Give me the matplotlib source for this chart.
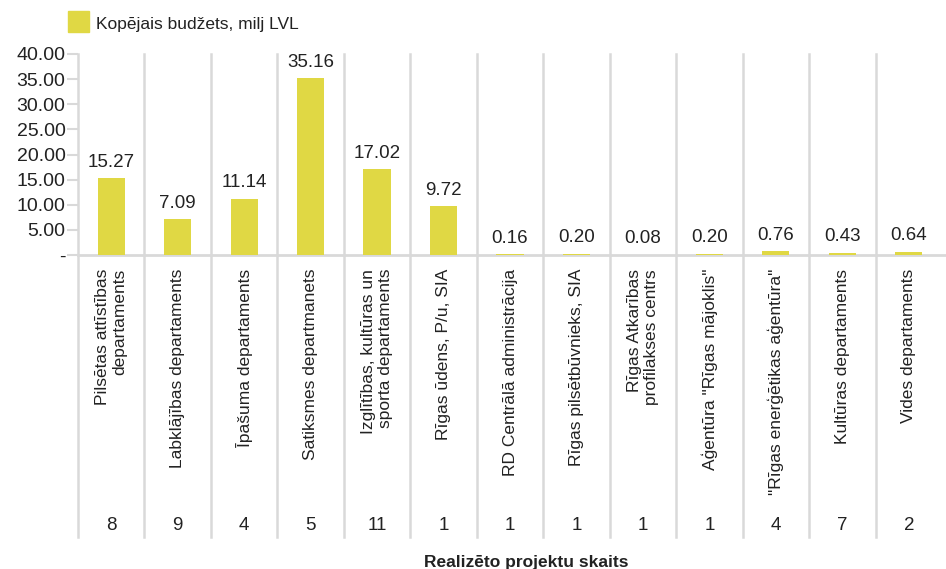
import matplotlib
matplotlib.use("Agg")
import matplotlib.pyplot as plt
import matplotlib.transforms as mtransforms
from matplotlib.patches import Rectangle

plt.rcParams['font.family'] = ['Liberation Sans', 'DejaVu Sans']

categories = [
    "Pilsētas attīstības\ndepartaments",
    "Labklājības departaments",
    "Īpašuma departaments",
    "Satiksmes departmanets",
    "Izglītības, kultūras un\nsporta departaments",
    "Rīgas ūdens, P/u, SIA",
    "RD Centrālā administrācija",
    "Rīgas pilsētbūvnieks, SIA",
    "Rīgas Atkarības\nprofilakses centrs",
    "Aģentūra \"Rīgas mājoklis\"",
    "\"Rīgas enerģētikas aģentūra\"",
    "Kultūras departaments",
    "Vides departaments",
]
budget = [15.27, 7.09, 11.14, 35.16, 17.02, 9.72, 0.16, 0.20, 0.08, 0.20, 0.76, 0.43, 0.64]
projects = [8, 9, 4, 5, 11, 1, 1, 1, 1, 1, 4, 7, 2]
yticks = [0, 5, 10, 15, 20, 25, 30, 35, 40]
ytick_labels = ["-", "5.00", "10.00", "15.00", "20.00", "25.00", "30.00", "35.00", "40.00"]

W, H = 946, 569
bar_color = "#e0d844"
grid_color = "#d9d9d9"
text_color = "#222222"

fig = plt.figure(figsize=(W / 100, H / 100), dpi=100)
ax = fig.add_axes([78 / W, (H - 255) / H, (942 - 78) / W, (255 - 54) / H])

x = list(range(len(categories)))
ax.bar(x, budget, width=0.41, color=bar_color, zorder=3)
ax.set_xlim(-0.5, len(categories) - 0.5)
ax.set_ylim(0, 40)

for s in ax.spines.values():
    s.set_visible(False)

ax.set_yticks(yticks)
ax.set_yticklabels(ytick_labels, fontsize=14, color=text_color)
ax.tick_params(axis='y', length=8, width=1.5, color=grid_color, pad=1)
ax.set_xticks([])

# zero line, running on to the right edge
ax.plot([-0.5, len(categories) + 0.5], [0, 0], color=grid_color, lw=2, clip_on=False, zorder=2)

# vertical separators reaching down into the label area
trans = mtransforms.blended_transform_factory(ax.transData, fig.transFigure)
for i in range(len(categories)):
    xs = i - 0.5
    ax.plot([xs, xs], [(H - 537) / H, (H - 54) / H], color=grid_color, lw=1.8,
            transform=trans, clip_on=False, zorder=1)

for i, v in enumerate(budget):
    ax.text(i, v + 1.5, f"{v:.2f}", ha='center', va='bottom', fontsize=13.5,
            color=text_color, zorder=4)
    ax.text(i, (H - 269) / H, categories[i], transform=trans, rotation=90,
            ha='center', va='top', multialignment='right', fontsize=12.5,
            color=text_color, linespacing=1.2)
    ax.text(i, (H - 526) / H, str(projects[i]), transform=trans, ha='center',
            va='center', fontsize=13.5, color=text_color)

fig.text(526 / W, (H - 562) / H, "Realizēto projektu skaits", ha='center',
         va='center', fontsize=12.5, fontweight='bold', color=text_color)

# legend
fig.patches.append(Rectangle((68 / W, (H - 32) / H), 21 / W, 21 / H,
                             transform=fig.transFigure, color=bar_color))
fig.text(96 / W, (H - 25) / H, "Kopējais budžets, milj LVL", ha='left',
         va='center', fontsize=12.5, color=text_color)

fig.savefig("out.png", dpi=100)
